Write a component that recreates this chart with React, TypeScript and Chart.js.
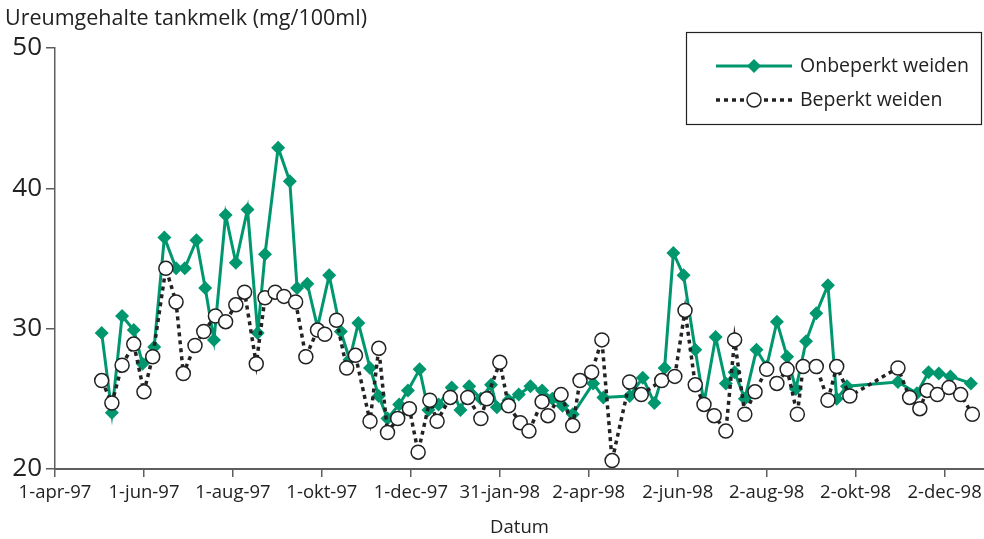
import React, { useEffect, useRef } from "react";
import { Chart, registerables } from "chart.js";

Chart.register(...registerables);

// x-as: dagen sinds 1-apr-97
const tickDagen = [0, 61, 122, 183, 244, 305, 366, 427, 488, 549, 610];
const tickLabels = [
  "1-apr-97", "1-jun-97", "1-aug-97", "1-okt-97", "1-dec-97", "31-jan-98",
  "2-apr-98", "2-jun-98", "2-aug-98", "2-okt-98", "2-dec-98",
];

const yTitel = "Ureumgehalte tankmelk (mg/100ml)";
const xTitel = "Datum";
const serieNamen = ["Onbeperkt weiden", "Beperkt weiden"];

const onbeperktDagen = [
  32, 39, 46, 54, 60, 68, 75, 83, 89, 97, 103, 109, 117, 124, 132, 139, 144, 153, 161, 166,
  173, 180, 188, 196, 202, 208, 216, 222, 228, 236, 242, 250, 256, 263, 272, 278, 284, 292,
  299, 303, 311, 318, 326, 334, 341, 348, 355, 369, 376, 394, 403, 411, 418, 424, 431, 439,
  445, 453, 460, 466, 473, 481, 488, 495, 502, 508, 515, 522, 530, 536, 543, 578, 591, 599,
  606, 614, 628,
];
const onbeperktWaarden = [
  29.7, 24.0, 30.9, 29.9, 27.5, 28.7, 36.5, 34.3, 34.3, 36.3, 32.9, 29.2, 38.1, 34.7, 38.5, 29.7,
  35.3, 42.9, 40.5, 32.9, 33.2, 30.1, 33.8, 29.8, 27.8, 30.4, 27.2, 25.2, 23.6, 24.6, 25.6, 27.1,
  24.2, 24.6, 25.8, 24.2, 25.9, 25.0, 26.0, 24.4, 24.9, 25.3, 25.9, 25.6, 25.0, 24.5, 23.9, 26.1,
  25.1, 25.2, 26.5, 24.7, 27.2, 35.4, 33.8, 28.5, 24.7, 29.4, 26.1, 26.9, 25.0, 28.5, 27.3, 30.5,
  28.0, 25.7, 29.1, 31.1, 33.1, 25.0, 25.9, 26.2, 25.4, 26.9, 26.8, 26.6, 26.1,
];

const beperktDagen = [
  32, 39, 46, 54, 61, 67, 76, 83, 88, 96, 102, 110, 117, 124, 130, 138, 144, 151, 157, 165,
  172, 180, 185, 193, 200, 206, 216, 222, 228, 235, 243, 249, 257, 262, 271, 283, 292, 296,
  305, 311, 319, 325, 334, 338, 347, 355, 360, 368, 375, 382, 394, 402, 416, 425, 432, 439,
  445, 452, 460, 466, 473, 480, 488, 495, 502, 509, 513, 522, 530, 536, 545, 578, 586, 593,
  598, 605, 613, 621, 629,
];
const beperktWaarden = [
  26.3, 24.7, 27.4, 28.9, 25.5, 28.0, 34.3, 31.9, 26.8, 28.8, 29.8, 30.9, 30.5, 31.7, 32.6, 27.5,
  32.2, 32.6, 32.3, 31.9, 28.0, 29.9, 29.6, 30.6, 27.2, 28.1, 23.4, 28.6, 22.6, 23.6, 24.3, 21.2,
  24.9, 23.4, 25.1, 25.1, 23.6, 25.0, 27.6, 24.5, 23.3, 22.7, 24.8, 23.8, 25.3, 23.1, 26.3, 26.9,
  29.2, 20.6, 26.2, 25.3, 26.3, 26.6, 31.3, 26.0, 24.6, 23.8, 22.7, 29.2, 23.9, 25.5, 27.1, 26.1,
  27.1, 23.9, 27.3, 27.3, 24.9, 27.3, 25.2, 27.2, 25.1, 24.3, 25.6, 25.3, 25.8, 25.3, 23.9,
];

const GROEN = "#00976F";
const ZWART = "#222222";
const AS = "#5e5e5e";
const FONT = "'Open Sans', 'DejaVu Sans', sans-serif";

function diamond(ctx: CanvasRenderingContext2D, x: number, y: number, r: number) {
  ctx.beginPath();
  ctx.moveTo(x, y - r);
  ctx.lineTo(x + r, y);
  ctx.lineTo(x, y + r);
  ctx.lineTo(x - r, y);
  ctx.closePath();
  ctx.fill();
}

const overlayPlugin = {
  id: "overlay",
  afterDraw(chart: any) {
    const ctx: CanvasRenderingContext2D = chart.ctx;
    ctx.save();
    ctx.fillStyle = ZWART;
    ctx.textBaseline = "middle";
    ctx.textAlign = "left";
    ctx.font = `21.5px ${FONT}`;
    ctx.fillText(yTitel, 5, 19);

    // legenda
    ctx.strokeStyle = ZWART;
    ctx.lineWidth = 1.2;
    ctx.strokeRect(686.5, 32.5, 295, 92);

    const y1 = 66;
    const y2 = 100;
    ctx.strokeStyle = GROEN;
    ctx.lineWidth = 3;
    ctx.beginPath();
    ctx.moveTo(716, y1);
    ctx.lineTo(792, y1);
    ctx.stroke();
    ctx.fillStyle = GROEN;
    diamond(ctx, 754, y1, 7);

    ctx.strokeStyle = ZWART;
    ctx.lineWidth = 3.5;
    ctx.setLineDash([4, 4]);
    ctx.beginPath();
    ctx.moveTo(716, y2);
    ctx.lineTo(792, y2);
    ctx.stroke();
    ctx.setLineDash([]);
    ctx.fillStyle = "#ffffff";
    ctx.lineWidth = 1.5;
    ctx.beginPath();
    ctx.arc(754, y2, 7, 0, Math.PI * 2);
    ctx.fill();
    ctx.stroke();

    ctx.fillStyle = ZWART;
    ctx.font = `19.5px ${FONT}`;
    ctx.fillText(serieNamen[0], 800, y1);
    ctx.fillText(serieNamen[1], 800, y2);
    ctx.restore();
  },
};

export default function App() {
  const ref = useRef<HTMLCanvasElement | null>(null);

  useEffect(() => {
    if (!ref.current) return;
    const chart = new Chart(ref.current, {
      type: "line",
      data: {
        datasets: [
          {
            label: serieNamen[1],
            data: beperktDagen.map((d, i) => ({ x: d, y: beperktWaarden[i] })),
            borderColor: ZWART,
            borderWidth: 3.5,
            borderDash: [4, 4],
            pointStyle: "circle",
            pointRadius: 7,
            pointBorderWidth: 1.5,
            pointBackgroundColor: "#ffffff",
            pointBorderColor: ZWART,
            tension: 0,
            fill: false,
            clip: false,
          },
          {
            label: serieNamen[0],
            data: onbeperktDagen.map((d, i) => ({ x: d, y: onbeperktWaarden[i] })),
            borderColor: GROEN,
            borderWidth: 3,
            pointStyle: "rectRot",
            pointRadius: 7,
            pointBorderWidth: 0,
            pointBackgroundColor: GROEN,
            pointBorderColor: GROEN,
            tension: 0,
            fill: false,
            clip: false,
          },
        ],
      },
      options: {
        animation: false,
        responsive: true,
        maintainAspectRatio: false,
        layout: { autoPadding: false, padding: { top: 48, right: 0, left: 0, bottom: 0 } },
        plugins: {
          legend: { display: false },
          tooltip: { enabled: false },
          title: { display: false },
        },
        scales: {
          x: {
            type: "linear",
            min: 0,
            max: 637,
            afterBuildTicks: (axis: any) => {
              axis.ticks = tickDagen.map((v) => ({ value: v }));
            },
            afterFit: (axis: any) => {
              axis.height = 70;
              axis.paddingLeft = 0;
              axis.paddingRight = 0;
            },
            ticks: {
              autoSkip: false,
              maxRotation: 0,
              minRotation: 0,
              padding: 5,
              color: ZWART,
              font: { family: FONT, size: 18.5 },
              callback: (v: any) => {
                const i = tickDagen.indexOf(Number(v));
                return i >= 0 ? tickLabels[i] : "";
              },
            },
            grid: { drawOnChartArea: false, drawTicks: true, tickLength: 8, color: AS, lineWidth: 1.5 },
            border: { display: true, color: AS, width: 2 },
            title: {
              display: true,
              text: xTitel,
              color: ZWART,
              font: { family: FONT, size: 18.5 },
              padding: { top: 4, bottom: 0 },
            },
          },
          y: {
            min: 20,
            max: 50,
            afterFit: (axis: any) => {
              axis.width = 55;
              axis.paddingTop = 0;
              axis.paddingBottom = 0;
            },
            ticks: {
              stepSize: 10,
              padding: 4,
              color: ZWART,
              font: { family: FONT, size: 26 },
            },
            grid: { drawOnChartArea: false, drawTicks: true, tickLength: 9, color: AS, lineWidth: 1.5 },
            border: { display: true, color: AS, width: 1.5 },
          },
        },
      },
      plugins: [overlayPlugin],
    });
    return () => chart.destroy();
  }, []);

  return (
    <div style={{ position: "fixed", left: 0, top: 0, width: 984, height: 539, background: "#fff" }}>
      <canvas ref={ref} />
    </div>
  );
}
